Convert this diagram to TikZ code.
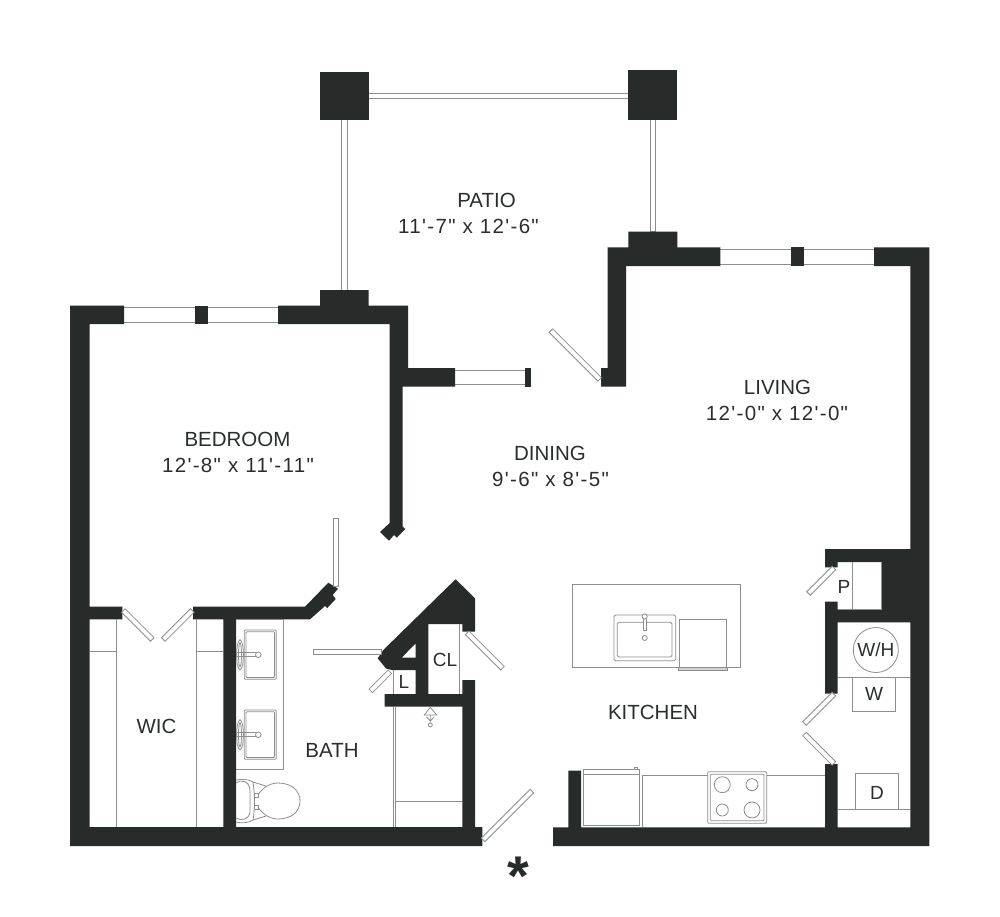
\documentclass[tikz,border=0pt]{standalone}
\usepackage{fontspec}
\newfontfamily\planfont{Liberation Sans}
\newfontfamily\sizefont[LetterSpace=6.5]{Liberation Sans}
\definecolor{wallcolor}{HTML}{272B2A}
\definecolor{thincolor}{HTML}{8C8E8D}
\definecolor{labelcolor}{HTML}{2A2E2D}
\begin{document}
\begin{tikzpicture}[
      x=1pt, y=-1pt,
      wall/.style={fill=wallcolor},
      fixture/.style={draw=thincolor, line width=0.8pt},
      pane/.style={draw=thincolor, line width=1pt, fill=white},
      door/.style={rectangle, draw=thincolor, line width=0.8pt, fill=white, inner sep=0pt, outer sep=0pt, minimum height=5pt},
      roomlabel/.style={text=labelcolor, inner sep=0pt, font=\planfont\fontsize{20.5}{24}\selectfont},
      sizelabel/.style={text=labelcolor, inner sep=0pt, font=\sizefont\fontsize{20.5}{24}\selectfont},
      tinylabel/.style={text=labelcolor, inner sep=0pt, font=\planfont\fontsize{19}{22}\selectfont}
    ]
    \useasboundingbox (0,0) rectangle (1000,917);
    \fill[white] (0,0) rectangle (1000,917);

    \draw[pane] (368.7,93.3) rectangle (628,99);
    \draw[pane] (341.3,119) rectangle (347,291);
    \draw[pane] (650,119) rectangle (655.3,232);
    \draw[pane] (123,307.3) rectangle (196,322);
    \draw[pane] (207,307.3) rectangle (279,322);
    \draw[pane] (454,370.3) rectangle (526,384.3);
    \draw[pane] (719,249.3) rectangle (791,264);
    \draw[pane] (803,249.3) rectangle (875,264);

    \fill[wall] (320,72.3) rectangle (368.7,119.7);
    \fill[wall] (628,70) rectangle (677.3,120);
    \fill[wall] (195,305.5) rectangle (208,324);
    \fill[wall] (525,368) rectangle (530.7,386.7);
    \fill[wall] (790.7,247.3) rectangle (804,266);

    \fill[wall] (70,305.5) -- (124,305.5) -- (124,324) -- (89.5,324) -- (89.5,606.7)
        -- (122.3,606.7) -- (122.3,619.3) -- (89.5,619.3) -- (89.5,827) -- (223.3,827)
        -- (223.3,619.3) -- (193,619.3) -- (193,606.7) -- (305,606.7) -- (328.3,582.7)
        -- (338,588.7) -- (332.7,595) -- (335.7,599) -- (327.3,608) -- (325,606) -- (310,619.3)
        -- (236,619.3) -- (236,827) -- (462.3,827) -- (462.3,706.7) -- (384.7,706.7)
        -- (384.7,694) -- (462.3,694) -- (462.3,680) -- (475,680) -- (475,827)
        -- (482.3,827) -- (482.3,846) -- (70,846) -- cycle;
    \fill[wall] (278,305.5) -- (320,305.5) -- (320,290) -- (368.7,290) -- (368.7,305.5)
        -- (408,305.5) -- (408,368) -- (455,368) -- (455,386.7) -- (402.7,386.7)
        -- (402.7,526.7) -- (405.3,529) -- (396.7,537.7) -- (394,535) -- (389,540.7)
        -- (380,532) -- (389.7,523) -- (389.7,324) -- (278,324) -- cycle;
    \fill[wall, even odd rule] (377.7,658.3) -- (383.3,650) -- (447.3,587.3) -- (455.7,579.3)
        -- (475,598.3) -- (475,631.7) -- (462.3,631.7) -- (462.3,624) -- (428.3,624)
        -- (428.3,694) -- (415.7,694) -- (415.7,670) -- (392,670) -- (386,668.5) -- cycle
        (401.7,657.7) -- (415.7,657.7) -- (415.7,643.3) -- cycle;
    \fill[wall] (607.7,247.3) -- (628.3,247.3) -- (628.3,231.7) -- (677.3,231.7)
        -- (677.3,247.3) -- (720.3,247.3) -- (720.3,266) -- (626,266) -- (626,386.7)
        -- (601,386.7) -- (601,368) -- (607.7,368) -- cycle;
    \fill[wall] (874,247.3) -- (929.3,247.3) -- (929.3,846) -- (553,846) -- (553,827.3)
        -- (568.3,827.3) -- (568.3,770.7) -- (581,770.7) -- (581,827.3) -- (825,827.3)
        -- (825,764) -- (837.7,764) -- (837.7,827.3) -- (910.3,827.3) -- (910.3,622.3)
        -- (837.7,622.3) -- (837.7,693.7) -- (825,693.7) -- (825,601.7) -- (837.7,601.7)
        -- (837.7,609.7) -- (881.7,609.7) -- (881.7,562) -- (837.7,562) -- (837.7,567.3)
        -- (825,567.3) -- (825,549) -- (910.3,549) -- (910.3,266) -- (874,266) -- cycle;

    \node[door, minimum width=68.7pt, rotate=90] (bedroomdoor) at (335.8,552.3) {};
    \node[door, minimum width=68pt] (bathdoor) at (347.7,652.3) {};
    \node[door, minimum width=27pt, rotate=45] (linendoor) at (380.3,681.3) {};
    \node[door, minimum width=50pt, rotate=-45] (closetdoor) at (484.8,650.5) {};
    \node[door, minimum width=69pt, rotate=45] (entrydoor) at (507.5,815.5) {};
    \node[door, minimum width=41pt, rotate=-45] (wicdoorleft) at (137.8,625) {};
    \node[door, minimum width=41pt, rotate=45] (wicdoorright) at (177.8,625) {};
    \node[door, minimum width=69pt, rotate=-45] (patiodoor) at (575.3,355) {};
    \node[door, minimum width=36pt, rotate=45] (pantrydoor) at (821.2,580.8) {};
    \node[door, minimum width=41.5pt, rotate=45] (washerdoor) at (819.2,708.8) {};
    \node[door, minimum width=41.5pt, rotate=-45] (dryerdoor) at (819.2,748.8) {};

    \draw[fixture] (116.3,619.3) -- (116.3,827);
    \draw[fixture] (196.3,619.3) -- (196.3,827);
    \draw[fixture] (89.5,651.3) -- (116.3,651.3);
    \draw[fixture] (196.3,651.3) -- (223.3,651.3);

    \draw[fixture] (236,619.3) -- (283.3,619.3) -- (283.3,769.3) -- (236,769.3);
    \draw[fixture, rounded corners=1pt] (244.3,630) rectangle (276.3,679.3);
    \draw[fixture, rounded corners=1pt] (246,631.7) rectangle (274.6,677.6);
    \draw[fixture, rounded corners=1pt] (244.3,710) rectangle (276.3,759.3);
    \draw[fixture, rounded corners=1pt] (246,711.7) rectangle (274.6,757.6);
    \draw[fixture] (258.3,654.7) circle (2.8);
    \draw[fixture] (237,652.8) -- (255.6,652.8) (237,656.6) -- (255.6,656.6);
    \draw[fixture] (240,654.7) ellipse (3.4 and 15);
    \draw[fixture] (240,654.7) ellipse (1.5 and 12);
    \draw[fixture] (258.3,734.7) circle (2.8);
    \draw[fixture] (237,732.8) -- (255.6,732.8) (237,736.6) -- (255.6,736.6);
    \draw[fixture] (240,734.7) ellipse (3.4 and 15);
    \draw[fixture] (240,734.7) ellipse (1.5 and 12);

    \draw[fixture] (236,783) .. controls (240,779.5) and (249,780) .. (250,790) -- (250,812)
        .. controls (249,820) and (241,821) .. (236,818);
    \draw[fixture] (236,780) .. controls (241,779) and (249,779) .. (253,782)
        .. controls (254,788) and (254,792) .. (254.5,796) -- (254.5,806)
        .. controls (254,810) and (254,815) .. (253,820) .. controls (249,823) and (241,823.5) .. (236,822);
    \draw[fixture] (253,782) -- (266,786);
    \draw[fixture] (253,820) -- (266,816);
    \draw[fixture] (258,795) .. controls (261,790) and (268,783) .. (278,783)
        .. controls (292,783) and (300,791) .. (300,801) .. controls (300,811) and (292,819) .. (278,819)
        .. controls (268,819) and (261,812) .. (258,807);
    \draw[fixture] (254.5,793) rectangle (258,797);
    \draw[fixture] (254.5,805) rectangle (258,809);

    \draw[fixture] (393,670) -- (393,694);
    \draw[fixture] (393,706.7) -- (393,827);
    \draw[fixture] (395,706.7) -- (395,827);
    \draw[fixture] (395,801.7) -- (462.3,801.7);
    \draw[fixture] (459,624) -- (459,694);
    \draw[fixture] (430.3,707.3) -- (424.3,715) -- (436.7,715) -- cycle;
    \draw[fixture] (430.3,715) -- (430.3,722.5) (426.5,717) -- (430.3,721) -- (434.1,717);
    \draw[fixture] (430.3,725) circle (2);

    \draw[fixture] (852.3,562) -- (852.3,609.7);
    \draw[fixture] (837.7,609.7) -- (881.7,609.7) -- (881.7,562);
    \draw[fixture] (875.8,650) circle (22.5);
    \draw[fixture] (837.7,677.7) -- (910.3,677.7);
    \draw[fixture] (852.3,677.7) -- (852.3,711) -- (895.7,711) -- (895.7,677.7);
    \draw[fixture] (837.7,809) -- (910.3,809);
    \draw[fixture] (855,809) -- (855,773.3) -- (898.3,773.3) -- (898.3,809);

    \draw[fixture] (642.7,827.3) -- (642.7,775.7) -- (825,775.7);
    \draw[fixture, fill=white, rounded corners=1pt] (707.7,771.7) rectangle (766.7,823.3);
    \draw[fixture, rounded corners=1pt] (710.3,774.3) rectangle (764,820.7);
    \draw[fixture] (722.3,784.7) circle (8);
    \draw[fixture] (752,784.7) circle (6);
    \draw[fixture] (722.3,810) circle (6);
    \draw[fixture] (752,810) circle (8);
    \draw[fixture] (583.3,769.3) rectangle (639.3,825.7);
    \draw[fixture] (583.3,774.3) -- (639.3,774.3);
    \draw[fixture] (634.7,769.3) -- (634.7,767) -- (637.3,767) -- (637.3,769.3);

    \draw[fixture] (572,584.7) rectangle (740.3,667);
    \draw[fixture, rounded corners=1.5pt] (614,615) rectangle (675.7,660.7);
    \draw[fixture, rounded corners=1.5pt] (617.3,622.3) rectangle (672,657);
    \draw[fixture, fill=white] (643.3,618) rectangle (646,630);
    \draw[fixture, fill=white] (644.7,616.5) circle (2.6);
    \draw[fixture] (644.7,638) circle (2.5);
    \draw[fixture] (679.7,667) -- (679.7,619.7) -- (726.7,619.7) -- (726.7,667);
    \draw[fixture, fill=thincolor!40] (678.7,667) rectangle (727.7,670.3);

    \node[roomlabel] (pationame) at (486.5,200) {PATIO};
    \node[sizelabel] (patiosize) at (468.5,226) {11'-7" x 12'-6"};
    \node[roomlabel] (livingname) at (777.5,387) {LIVING};
    \node[sizelabel] (livingsize) at (777,413) {12'-0" x 12'-0"};
    \node[roomlabel] (bedroomname) at (237.5,439) {BEDROOM};
    \node[sizelabel] (bedroomsize) at (238,465) {12'-8" x 11'-11"};
    \node[roomlabel] (diningname) at (550,453) {DINING};
    \node[sizelabel] (diningsize) at (550.5,479) {9'-6" x 8'-5"};
    \node[roomlabel] (kitchenname) at (653,712) {KITCHEN};
    \node[roomlabel] (wicname) at (156.5,726) {WIC};
    \node[roomlabel] (bathname) at (332,750) {BATH};
    \node[tinylabel] (linenname) at (404,682) {L};
    \node[tinylabel] (closetname) at (445,659.5) {CL};
    \node[tinylabel] (pantryname) at (844,586.5) {P};
    \node[tinylabel] (heatername) at (875.8,650) {W/H};
    \node[tinylabel] (washername) at (874,693.5) {W};
    \node[tinylabel] (dryername) at (877,793) {D};
    \node[text=wallcolor, inner sep=0pt, anchor=north, font=\planfont\bfseries\fontsize{56}{60}\selectfont] (entrymark) at (518,857) {*};
\end{tikzpicture}
\end{document}
